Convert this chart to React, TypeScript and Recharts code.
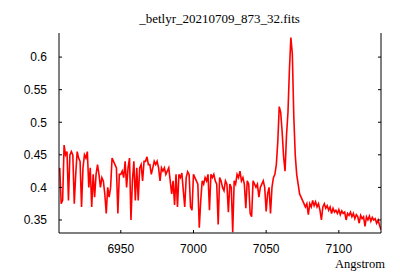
import { LineChart, Line, XAxis, YAxis } from 'recharts'

// wavelength grid (Angstrom), 1 A steps
const waveStart = 6908
const flux: number[] = [
  0.43, 0.375, 0.38, 0.465, 0.45, 0.455, 0.38, 0.45, 0.455, 0.45,
  0.375, 0.42, 0.455, 0.445, 0.44, 0.37, 0.43, 0.45, 0.445, 0.455,
  0.40, 0.43, 0.37, 0.42, 0.385, 0.42, 0.435, 0.42, 0.40, 0.415,
  0.41, 0.39, 0.36, 0.40, 0.385, 0.40, 0.445, 0.44, 0.435, 0.43,
  0.36, 0.42, 0.42, 0.425, 0.415, 0.44, 0.40, 0.43, 0.445, 0.35,
  0.41, 0.44, 0.38, 0.43, 0.38, 0.43, 0.435, 0.41, 0.44, 0.44,
  0.447, 0.435, 0.435, 0.42, 0.43, 0.44, 0.435, 0.44, 0.43, 0.41,
  0.43, 0.425, 0.43, 0.42, 0.425, 0.43, 0.41, 0.39, 0.41, 0.373,
  0.42, 0.37, 0.42, 0.415, 0.422, 0.395, 0.37, 0.415, 0.424, 0.42,
  0.37, 0.365, 0.42, 0.415, 0.41, 0.405, 0.338, 0.38, 0.41, 0.405,
  0.415, 0.41, 0.42, 0.365, 0.42, 0.415, 0.42, 0.41, 0.405, 0.343,
  0.415, 0.41, 0.40, 0.395, 0.41, 0.405, 0.362, 0.405, 0.40, 0.331,
  0.41, 0.405, 0.42, 0.415, 0.425, 0.41, 0.415, 0.405, 0.368, 0.41,
  0.405, 0.36, 0.355, 0.41, 0.405, 0.40, 0.405, 0.385, 0.40, 0.405,
  0.41, 0.40, 0.363, 0.39, 0.40, 0.36, 0.40, 0.415, 0.42, 0.435,
  0.47, 0.524, 0.515, 0.485, 0.447, 0.425, 0.48, 0.515, 0.58, 0.63,
  0.605, 0.51, 0.45, 0.42, 0.405, 0.39, 0.385, 0.38, 0.375, 0.37,
  0.375, 0.358, 0.375, 0.37, 0.38, 0.372, 0.378, 0.37, 0.375, 0.365,
  0.35, 0.37, 0.375, 0.368, 0.372, 0.365, 0.37, 0.36, 0.368, 0.362,
  0.365, 0.36, 0.366, 0.358, 0.364, 0.36, 0.362, 0.35, 0.36, 0.357,
  0.362, 0.355, 0.36, 0.352, 0.358, 0.355, 0.345, 0.357, 0.352, 0.355,
  0.34, 0.355, 0.35, 0.356, 0.348, 0.354, 0.35, 0.352, 0.345, 0.35,
  0.342, 0.335,
]

const xTicks = [6950, 7000, 7050, 7100]
const yTicks = [0.35, 0.4, 0.45, 0.5, 0.55, 0.6]
const xDomain = [6907.5, 7129]
const yDomain = [0.33, 0.637]

const data = flux.map((f, i) => ({ wave: waveStart + i, flux: f }))

const tickFont = { fontFamily: 'Liberation Sans, Arial, sans-serif', fontSize: 12, fill: '#000' }
const serif = 'Liberation Serif, Times New Roman, serif'
const blank = () => ''

export default function App() {
  return (
    <div style={{ position: 'absolute', left: 0, top: 0, background: '#fff' }}>
      <LineChart width={400} height={280} data={data} margin={{ top: 33, right: 0, bottom: 17, left: 0 }}>
        <XAxis
          dataKey="wave"
          type="number"
          domain={xDomain}
          ticks={xTicks}
          allowDataOverflow
          height={30}
          tickSize={-3}
          tickMargin={14}
          tick={tickFont}
          stroke="#000"
        />
        <XAxis
          xAxisId="top"
          orientation="top"
          dataKey="wave"
          type="number"
          domain={xDomain}
          ticks={xTicks}
          allowDataOverflow
          height={0}
          tickSize={-3}
          tickFormatter={blank}
          stroke="#000"
        />
        <YAxis
          type="number"
          domain={yDomain}
          ticks={yTicks}
          allowDataOverflow
          width={59}
          tickSize={-3}
          tickMargin={15}
          tick={tickFont}
          stroke="#000"
        />
        <YAxis
          yAxisId="right"
          orientation="right"
          type="number"
          domain={yDomain}
          ticks={yTicks}
          allowDataOverflow
          width={19}
          tickSize={-3}
          tickFormatter={blank}
          stroke="#000"
        />
        <Line
          dataKey="flux"
          type="linear"
          stroke="#ff0000"
          strokeWidth={1.6}
          dot={false}
          isAnimationActive={false}
        />
        <text x={219.5} y={23} textAnchor="middle" fontFamily={serif} fontSize={13} fill="#000">
          _betlyr_20210709_873_32.fits
        </text>
        <text x={385} y={268} textAnchor="end" fontFamily={serif} fontSize={12.5} fill="#000">
          Angstrom
        </text>
      </LineChart>
    </div>
  )
}
